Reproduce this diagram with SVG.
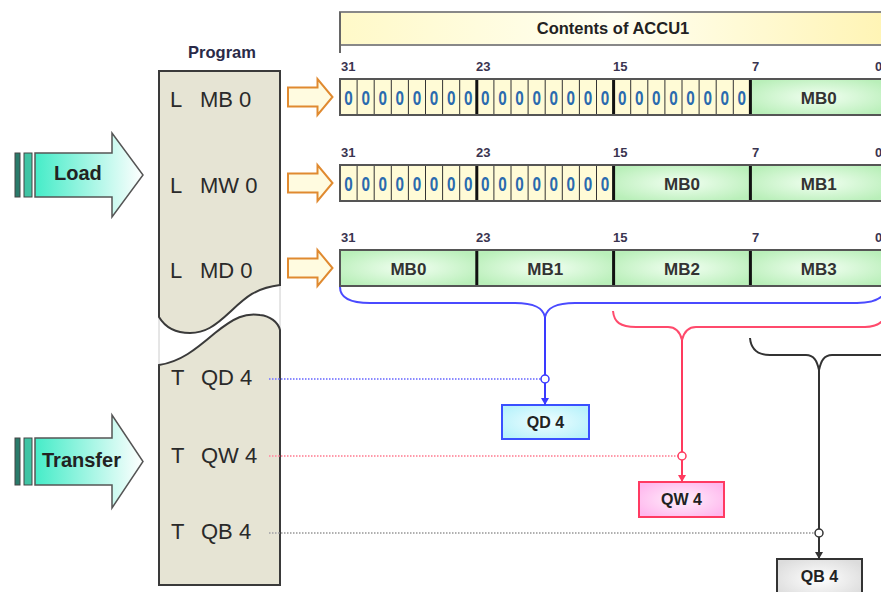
<svg xmlns="http://www.w3.org/2000/svg" width="881" height="592" viewBox="0 0 881 592">
<defs>
<style>
text{font-family:"Liberation Sans",Arial,sans-serif;}
.lbl{font-size:13px;font-weight:bold;fill:#3a3450;}
.z{font-size:21px;font-weight:bold;fill:#2a6aae;text-anchor:middle;}
.mb{font-size:17px;font-weight:bold;fill:#333;text-anchor:middle;}
.pg{font-size:22px;fill:#2a2a2a;}
.big{font-size:20px;font-weight:bold;fill:#222;}
.bx{font-size:16px;font-weight:bold;fill:#222;text-anchor:middle;}
.zero{fill:#fffbd6;}
.thin{stroke:#333;stroke-width:1;fill:none;}
.thick{stroke:#111;stroke-width:3;fill:none;}
.rowb{fill:none;stroke:#555;stroke-width:2;}
.oarr{fill:#fffbe0;stroke:#e08a30;stroke-width:2;}
</style>
<linearGradient id="gHead" x1="0" y1="0" x2="1" y2="0">
<stop offset="0" stop-color="#fff9c8"/><stop offset="0.5" stop-color="#fffff2"/><stop offset="1" stop-color="#fff4b4"/>
</linearGradient>
<radialGradient id="gGreen" cx="0.5" cy="0.5" r="0.6">
<stop offset="0" stop-color="#f2fff2"/><stop offset="1" stop-color="#b9efb9"/>
</radialGradient>
<linearGradient id="gTeal" x1="0" y1="0" x2="1" y2="0">
<stop offset="0" stop-color="#45ecc8"/><stop offset="1" stop-color="#ffffff"/>
</linearGradient>
<radialGradient id="gCyan" cx="0.5" cy="0.5" r="0.6">
<stop offset="0" stop-color="#f0feff"/><stop offset="1" stop-color="#b8f2fb"/>
</radialGradient>
<radialGradient id="gPink" cx="0.5" cy="0.5" r="0.6">
<stop offset="0" stop-color="#fff0fc"/><stop offset="1" stop-color="#ffb8ee"/>
</radialGradient>
<radialGradient id="gGray" cx="0.5" cy="0.5" r="0.6">
<stop offset="0" stop-color="#ffffff"/><stop offset="1" stop-color="#dcdcdc"/>
</radialGradient>
<marker id="mBlue" markerWidth="8" markerHeight="8" refX="7" refY="4" orient="auto" markerUnits="userSpaceOnUse"><path d="M0,0 L7,4 L0,8 Z" fill="#3a3aff"/></marker>
<marker id="mRed" markerWidth="8" markerHeight="8" refX="7" refY="4" orient="auto" markerUnits="userSpaceOnUse"><path d="M0,0 L7,4 L0,8 Z" fill="#ff3a5e"/></marker>
<marker id="mBlack" markerWidth="8" markerHeight="8" refX="7" refY="4" orient="auto" markerUnits="userSpaceOnUse"><path d="M0,0 L7,4 L0,8 Z" fill="#333"/></marker>
<path id="oa" d="M0,-9.5 H29.5 V-18 L44.5,0 L29.5,18 V9.5 H0 Z"/>
</defs>
<rect width="881" height="592" fill="#fff"/>

<g id="header">
<rect x="340" y="12" width="548" height="33" fill="url(#gHead)" stroke="#888" stroke-width="2"/>
<line x1="340" y1="12" x2="340" y2="53" stroke="#666" stroke-width="2"/>
<text x="613" y="34" font-size="16.5" font-weight="bold" fill="#222" text-anchor="middle">Contents of ACCU1</text>
</g>

<g id="program">
<text x="222" y="58" font-size="16.5" font-weight="bold" fill="#2a2a48" text-anchor="middle">Program</text>
<line x1="159" y1="317" x2="159" y2="365" stroke="#ccc" stroke-width="1"/>
<line x1="280" y1="285" x2="280" y2="330" stroke="#ccc" stroke-width="1"/>
<path d="M159,71 H280 V285 C255,288 245,298 230,312 C215,326 205,333 190,333 C175,333 165,327 159,317 Z" fill="#e6e4d4" stroke="#3a3a3a" stroke-width="2"/>
<path d="M159,365 C180,362 195,350 215,333 C235,317 245,313 260,315 C270,316 278,322 280,330 V585 H159 Z" fill="#e6e4d4" stroke="#3a3a3a" stroke-width="2"/>
<text class="pg" x="170" y="107">L</text><text class="pg" x="200" y="107">MB 0</text>
<text class="pg" x="170" y="193">L</text><text class="pg" x="200" y="193">MW 0</text>
<text class="pg" x="170" y="278">L</text><text class="pg" x="200" y="278">MD 0</text>
<text class="pg" x="171" y="385">T</text><text class="pg" x="201" y="385">QD 4</text>
<text class="pg" x="171" y="463">T</text><text class="pg" x="201" y="463">QW 4</text>
<text class="pg" x="171" y="539">T</text><text class="pg" x="201" y="539">QB 4</text>
</g>

<g id="load-arrow">
<rect x="15" y="153" width="5" height="44" fill="#2a7a6a" stroke="#444" stroke-width="1"/>
<rect x="24" y="153" width="8" height="44" fill="#40c4a4" stroke="#444" stroke-width="1"/>
<path d="M35,153 H112 V133 L143,175 L112,217 V197 H35 Z" fill="url(#gTeal)" stroke="#555" stroke-width="1.5"/>
<text class="big" x="54" y="180">Load</text>
</g>

<g id="transfer-arrow">
<rect x="15" y="438" width="5" height="47" fill="#2a7a6a" stroke="#444" stroke-width="1"/>
<rect x="24" y="438" width="8" height="47" fill="#40c4a4" stroke="#444" stroke-width="1"/>
<path d="M35,438 H112 V415 L143,461.5 L112,508 V485 H35 Z" fill="url(#gTeal)" stroke="#555" stroke-width="1.5"/>
<text class="big" x="42" y="467" font-size="19.5">Transfer</text>
</g>

<g id="load-arrows">
<use href="#oa" class="oarr" transform="translate(288,97)"/>
<use href="#oa" class="oarr" transform="translate(288,183)"/>
<use href="#oa" class="oarr" transform="translate(288,268)"/>
</g>

<g id="row1">
<text class="lbl" x="341" y="71">31</text><text class="lbl" x="476" y="71">23</text><text class="lbl" x="613" y="71">15</text><text class="lbl" x="752" y="71">7</text><text class="lbl" x="875" y="71">0</text>
<rect class="zero" x="340" y="79" width="410.4" height="36"/>
<rect x="750.4" y="79" width="136.8" height="36" fill="url(#gGreen)"/>
<path class="thin" d="M357.1,79V115M374.2,79V115M391.3,79V115M408.4,79V115M425.5,79V115M442.6,79V115M459.7,79V115M493.9,79V115M511,79V115M528.1,79V115M545.2,79V115M562.3,79V115M579.4,79V115M596.5,79V115M630.7,79V115M647.8,79V115M664.9,79V115M682,79V115M699.1,79V115M716.2,79V115M733.3,79V115"/>
<path class="thick" d="M476.8,79V115M613.6,79V115M750.4,79V115"/>
<rect class="rowb" x="340" y="79" width="547.2" height="36"/>
<g class="z">
<text x="348.55" y="105" textLength="8.5" lengthAdjust="spacingAndGlyphs">0</text><text x="365.65" y="105" textLength="8.5" lengthAdjust="spacingAndGlyphs">0</text><text x="382.75" y="105" textLength="8.5" lengthAdjust="spacingAndGlyphs">0</text><text x="399.85" y="105" textLength="8.5" lengthAdjust="spacingAndGlyphs">0</text><text x="416.95" y="105" textLength="8.5" lengthAdjust="spacingAndGlyphs">0</text><text x="434.05" y="105" textLength="8.5" lengthAdjust="spacingAndGlyphs">0</text><text x="451.15" y="105" textLength="8.5" lengthAdjust="spacingAndGlyphs">0</text><text x="468.25" y="105" textLength="8.5" lengthAdjust="spacingAndGlyphs">0</text>
<text x="485.35" y="105" textLength="8.5" lengthAdjust="spacingAndGlyphs">0</text><text x="502.45" y="105" textLength="8.5" lengthAdjust="spacingAndGlyphs">0</text><text x="519.55" y="105" textLength="8.5" lengthAdjust="spacingAndGlyphs">0</text><text x="536.65" y="105" textLength="8.5" lengthAdjust="spacingAndGlyphs">0</text><text x="553.75" y="105" textLength="8.5" lengthAdjust="spacingAndGlyphs">0</text><text x="570.85" y="105" textLength="8.5" lengthAdjust="spacingAndGlyphs">0</text><text x="587.95" y="105" textLength="8.5" lengthAdjust="spacingAndGlyphs">0</text><text x="605.05" y="105" textLength="8.5" lengthAdjust="spacingAndGlyphs">0</text>
<text x="622.15" y="105" textLength="8.5" lengthAdjust="spacingAndGlyphs">0</text><text x="639.25" y="105" textLength="8.5" lengthAdjust="spacingAndGlyphs">0</text><text x="656.35" y="105" textLength="8.5" lengthAdjust="spacingAndGlyphs">0</text><text x="673.45" y="105" textLength="8.5" lengthAdjust="spacingAndGlyphs">0</text><text x="690.55" y="105" textLength="8.5" lengthAdjust="spacingAndGlyphs">0</text><text x="707.65" y="105" textLength="8.5" lengthAdjust="spacingAndGlyphs">0</text><text x="724.75" y="105" textLength="8.5" lengthAdjust="spacingAndGlyphs">0</text><text x="741.85" y="105" textLength="8.5" lengthAdjust="spacingAndGlyphs">0</text>
</g>
<text class="mb" x="818.8" y="103.5">MB0</text>
</g>

<g id="row2">
<text class="lbl" x="341" y="157">31</text><text class="lbl" x="476" y="157">23</text><text class="lbl" x="613" y="157">15</text><text class="lbl" x="752" y="157">7</text><text class="lbl" x="875" y="157">0</text>
<rect class="zero" x="340" y="165" width="273.6" height="36"/>
<rect x="613.6" y="165" width="136.8" height="36" fill="url(#gGreen)"/>
<rect x="750.4" y="165" width="136.8" height="36" fill="url(#gGreen)"/>
<path class="thin" d="M357.1,165V201M374.2,165V201M391.3,165V201M408.4,165V201M425.5,165V201M442.6,165V201M459.7,165V201M493.9,165V201M511,165V201M528.1,165V201M545.2,165V201M562.3,165V201M579.4,165V201M596.5,165V201"/>
<path class="thick" d="M476.8,165V201M613.6,165V201M750.4,165V201"/>
<rect class="rowb" x="340" y="165" width="547.2" height="36"/>
<g class="z">
<text x="348.55" y="191" textLength="8.5" lengthAdjust="spacingAndGlyphs">0</text><text x="365.65" y="191" textLength="8.5" lengthAdjust="spacingAndGlyphs">0</text><text x="382.75" y="191" textLength="8.5" lengthAdjust="spacingAndGlyphs">0</text><text x="399.85" y="191" textLength="8.5" lengthAdjust="spacingAndGlyphs">0</text><text x="416.95" y="191" textLength="8.5" lengthAdjust="spacingAndGlyphs">0</text><text x="434.05" y="191" textLength="8.5" lengthAdjust="spacingAndGlyphs">0</text><text x="451.15" y="191" textLength="8.5" lengthAdjust="spacingAndGlyphs">0</text><text x="468.25" y="191" textLength="8.5" lengthAdjust="spacingAndGlyphs">0</text>
<text x="485.35" y="191" textLength="8.5" lengthAdjust="spacingAndGlyphs">0</text><text x="502.45" y="191" textLength="8.5" lengthAdjust="spacingAndGlyphs">0</text><text x="519.55" y="191" textLength="8.5" lengthAdjust="spacingAndGlyphs">0</text><text x="536.65" y="191" textLength="8.5" lengthAdjust="spacingAndGlyphs">0</text><text x="553.75" y="191" textLength="8.5" lengthAdjust="spacingAndGlyphs">0</text><text x="570.85" y="191" textLength="8.5" lengthAdjust="spacingAndGlyphs">0</text><text x="587.95" y="191" textLength="8.5" lengthAdjust="spacingAndGlyphs">0</text><text x="605.05" y="191" textLength="8.5" lengthAdjust="spacingAndGlyphs">0</text>
</g>
<text class="mb" x="682" y="189.5">MB0</text>
<text class="mb" x="818.8" y="189.5">MB1</text>
</g>

<g id="row3">
<text class="lbl" x="341" y="242">31</text><text class="lbl" x="476" y="242">23</text><text class="lbl" x="613" y="242">15</text><text class="lbl" x="752" y="242">7</text><text class="lbl" x="875" y="242">0</text>
<rect x="340" y="250" width="136.8" height="36" fill="url(#gGreen)"/>
<rect x="476.8" y="250" width="136.8" height="36" fill="url(#gGreen)"/>
<rect x="613.6" y="250" width="136.8" height="36" fill="url(#gGreen)"/>
<rect x="750.4" y="250" width="136.8" height="36" fill="url(#gGreen)"/>
<path class="thick" d="M476.8,250V286M613.6,250V286M750.4,250V286"/>
<rect class="rowb" x="340" y="250" width="547.2" height="36"/>
<text class="mb" x="408.4" y="274.5">MB0</text>
<text class="mb" x="545.2" y="274.5">MB1</text>
<text class="mb" x="682" y="274.5">MB2</text>
<text class="mb" x="818.8" y="274.5">MB3</text>
</g>

<g id="qd4">
<rect x="502" y="405" width="87" height="34" fill="url(#gCyan)" stroke="#3a50ff" stroke-width="2"/>
<text class="bx" x="545.5" y="428">QD 4</text>
</g>
<g id="qw4">
<rect x="639" y="482" width="85" height="35" fill="url(#gPink)" stroke="#ff3a62" stroke-width="2"/>
<text class="bx" x="681.5" y="505">QW 4</text>
</g>
<g id="qb4">
<rect x="777" y="559" width="85" height="40" fill="url(#gGray)" stroke="#333" stroke-width="2"/>
<text class="bx" x="819.5" y="582">QB 4</text>
</g>

<g id="connectors" fill="none" stroke-width="2">
<path d="M340,287 C340,298 350,303 370,303 H515 C535,303 543,308 545,317 C547,308 555,303 575,303 H857 C875,303 885,298 887,287" stroke="#4a4aff"/>
<path d="M613,311 C614,322 620,327 636,327 H668 C676,327 680,332 682,340 C684,332 688,327 696,327 H865 C878,327 885,322 887,311" stroke="#ff4a6c"/>
<path d="M750,338 C751,349 757,355 770,355 H806 C814,355 817,361 819,370 C821,361 824,355 832,355 H880 C890,355 895,350 897,340" stroke="#333"/>
<line x1="545" y1="317" x2="545" y2="405" stroke="#3a3aff" marker-end="url(#mBlue)"/>
<line x1="682" y1="340" x2="682" y2="482" stroke="#ff3a5e" marker-end="url(#mRed)"/>
<line x1="819" y1="370" x2="819" y2="559" stroke="#333" marker-end="url(#mBlack)"/>
<line x1="269" y1="379" x2="541" y2="379" stroke="#8a8aff" stroke-dasharray="1.5 1.5"/>
<line x1="269" y1="456" x2="678" y2="456" stroke="#ff9aaa" stroke-dasharray="1.5 1.5"/>
<line x1="269" y1="533" x2="815" y2="533" stroke="#b0b0b0" stroke-dasharray="1.5 1.5"/>
<circle cx="545" cy="379" r="4" fill="#fff" stroke="#3a3aff" stroke-width="1.5"/>
<circle cx="682" cy="456" r="4" fill="#fff" stroke="#ff3a5e" stroke-width="1.5"/>
<circle cx="819" cy="533" r="4" fill="#fff" stroke="#333" stroke-width="1.5"/>
</g>
</svg>
